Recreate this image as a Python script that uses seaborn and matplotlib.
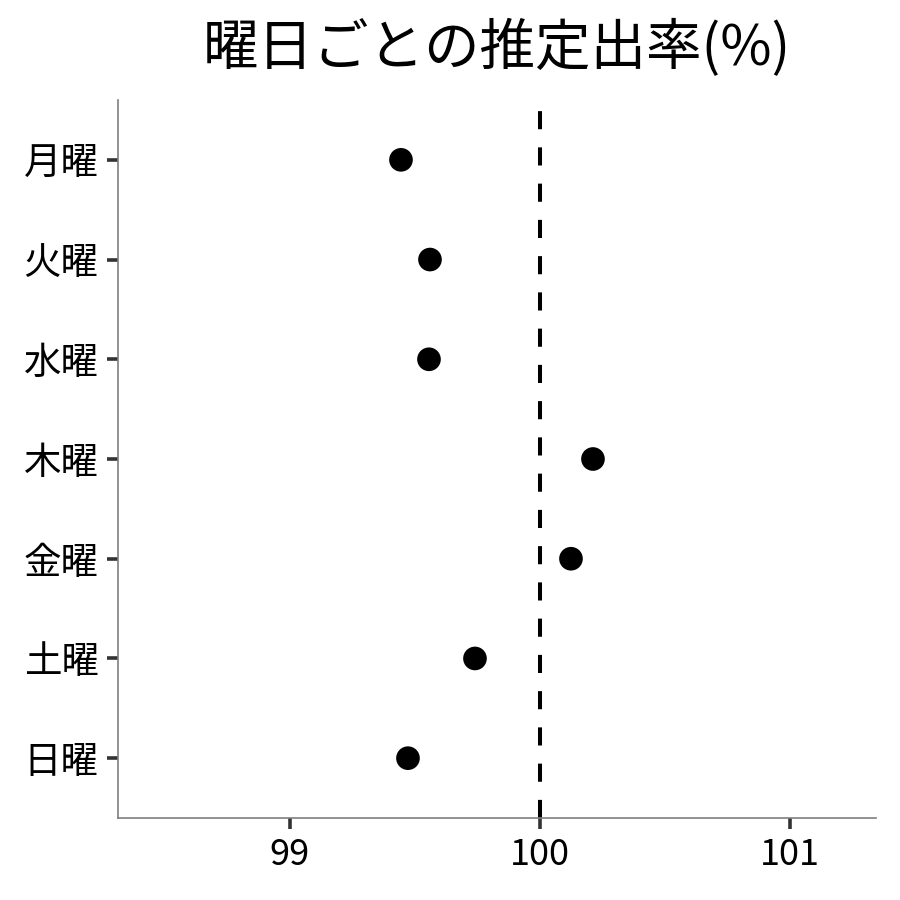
import matplotlib
matplotlib.use("Agg")
import matplotlib.pyplot as plt
import seaborn as sns
import pandas as pd

# 曜日ごとの推定出率(%)
days = ["月曜", "火曜", "水曜", "木曜", "金曜", "土曜", "日曜"]
rates = [99.444, 99.56, 99.556, 100.212, 100.124, 99.74, 99.472]
ref_value = 100
x_ticks = [99, 100, 101]

df = pd.DataFrame({"day": days, "rate": rates})

sns.set_style("white")
plt.rcParams['font.family'] = ['Noto Sans CJK JP', 'DejaVu Sans']

fig = plt.figure(figsize=(9, 9), dpi=100)
ax = fig.add_axes([0.1311, 0.0911, 0.8422, 0.7978])

sns.scatterplot(data=df, x="rate", y="day", color="black", s=290,
                edgecolor="none", ax=ax, zorder=3)
ax.axvline(ref_value, color="black", linestyle=(0, (4.5, 4.5)), linewidth=2.9, zorder=2)

ax.set_xlim(98.312, 101.344)
ax.set_ylim(len(days) - 0.4, -0.6)
ax.set_xticks(x_ticks)
ax.set_xticklabels([str(t) for t in x_ticks])
ax.set_xlabel("")
ax.set_ylabel("")

for side in ["top", "right"]:
    ax.spines[side].set_visible(False)
for side in ["left", "bottom"]:
    ax.spines[side].set_color("#7f7f7f")
    ax.spines[side].set_linewidth(1.2)

ax.tick_params(axis="both", which="major", direction="out", length=8, width=2.6,
               color="#333333", labelsize=26, pad=6, labelcolor="black",
               bottom=True, left=True)
ax.tick_params(axis="y", labelsize=27)

ax.set_title("曜日ごとの推定出率(%)", fontsize=40, pad=25, color="black")

fig.savefig("out.png", dpi=100)
